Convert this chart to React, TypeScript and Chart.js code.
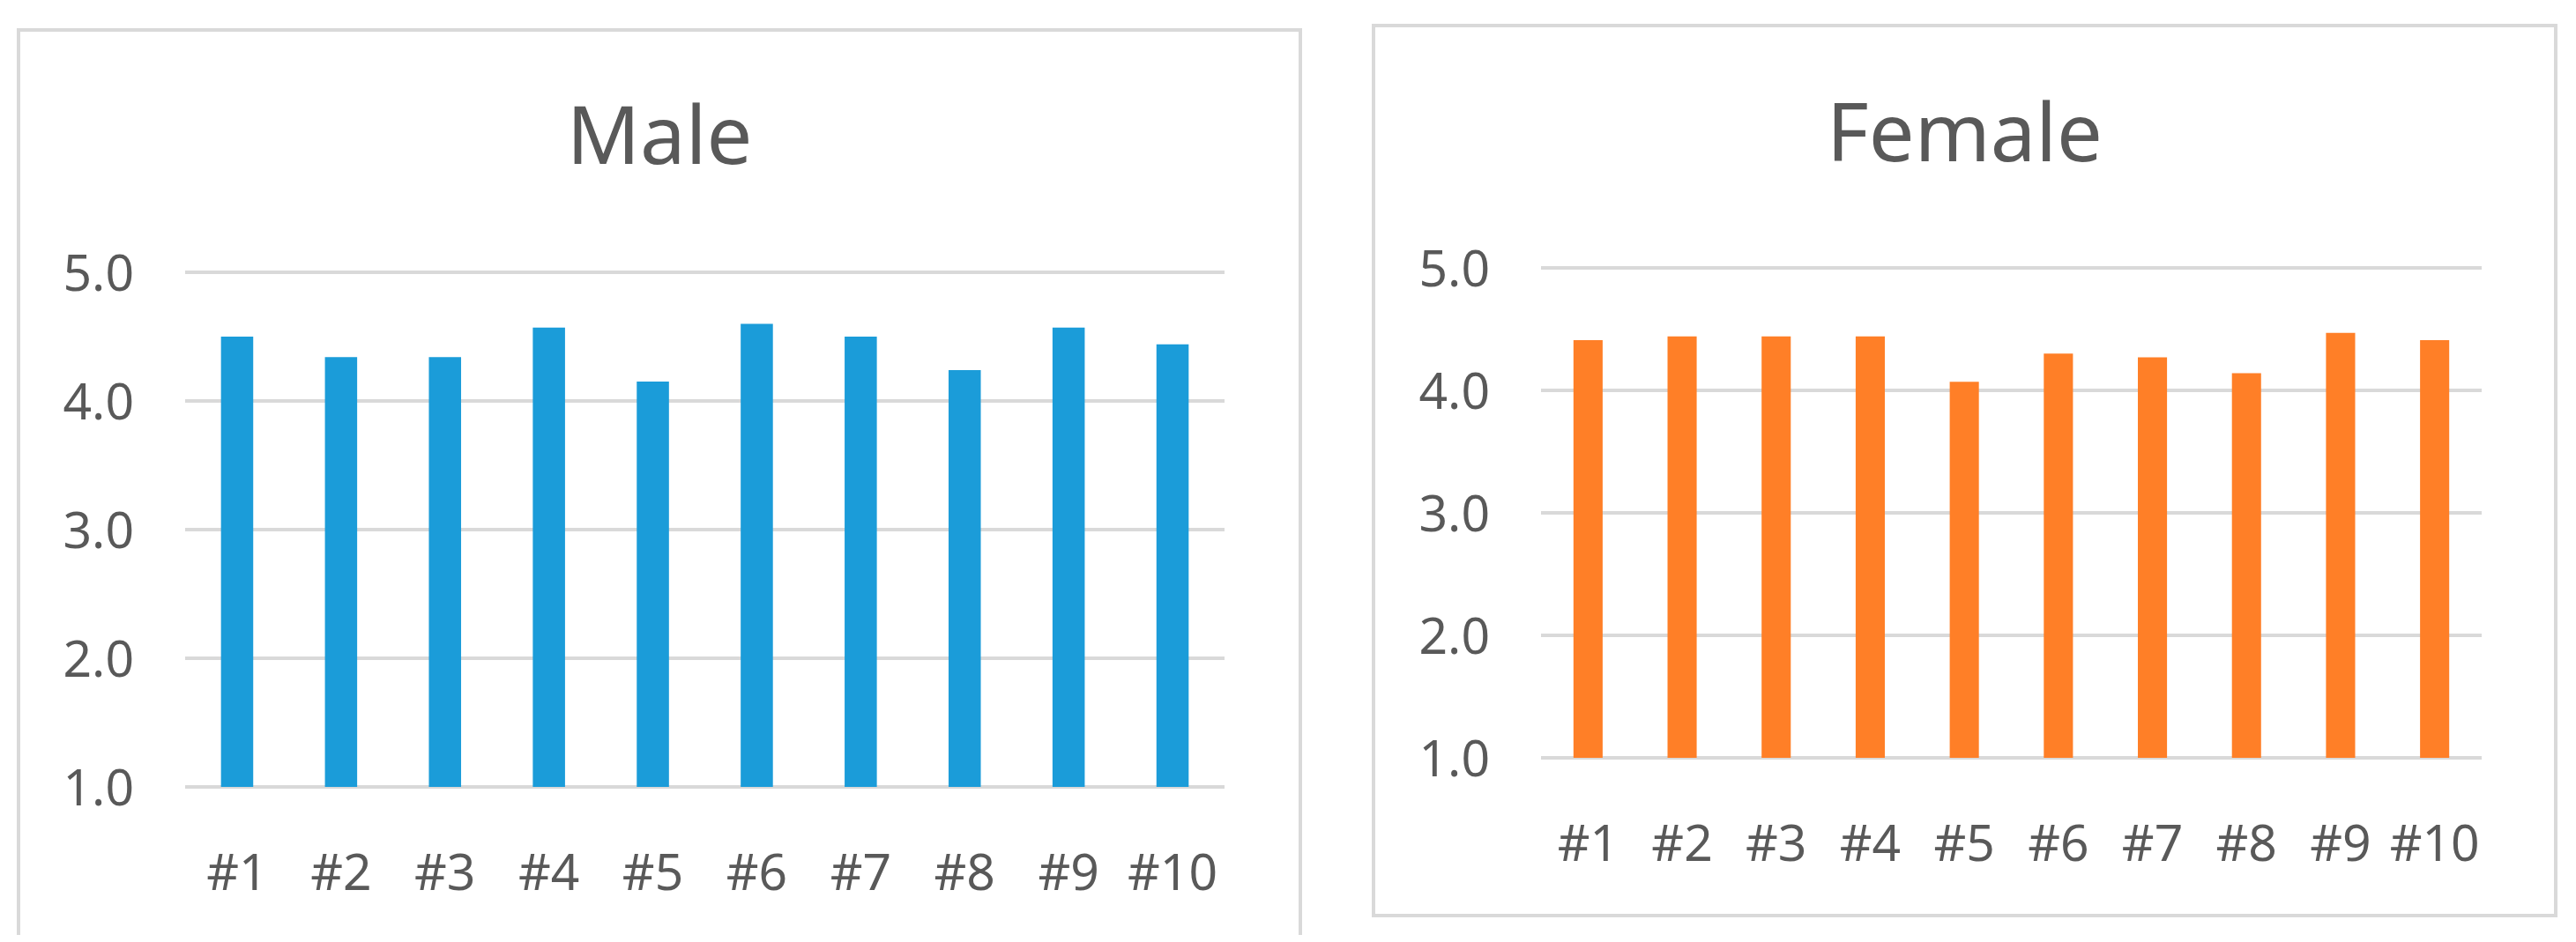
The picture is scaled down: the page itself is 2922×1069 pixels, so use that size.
import React, { useEffect, useRef } from 'react';
import { Chart, registerables } from 'chart.js';

Chart.register(...registerables);

const categories = ['#1', '#2', '#3', '#4', '#5', '#6', '#7', '#8', '#9', '#10'];
const maleValues = [4.5, 4.34, 4.34, 4.57, 4.15, 4.6, 4.5, 4.24, 4.57, 4.44];
const femaleValues = [4.41, 4.44, 4.44, 4.44, 4.07, 4.3, 4.27, 4.14, 4.47, 4.41];
const yMin = 1;
const yMax = 5;
const yStep = 1;

const TEXT = '#595959';
const GRID = '#d9d9d9';
const FONT = '"Noto Sans", "Open Sans", sans-serif';

type PanelProps = {
  title: string;
  values: number[];
  color: string;
  left: number;
  top: number;
  width: number;
  height: number;
  padR: number;
  yWidth: number;
  xHeight: number;
  titleTop: number;
  titleBottom: number;
};

function Panel(p: PanelProps) {
  const ref = useRef<HTMLCanvasElement | null>(null);
  const innerW = p.width - 8;
  const innerH = p.height - 8;

  useEffect(() => {
    if (!ref.current) return;
    const chart = new Chart(ref.current, {
      type: 'bar',
      data: {
        labels: categories,
        datasets: [
          {
            data: p.values,
            backgroundColor: p.color,
            borderWidth: 0,
            barPercentage: 0.31,
            categoryPercentage: 1,
            yAxisID: 'y',
          },
        ],
      },
      options: {
        responsive: false,
        animation: false,
        devicePixelRatio: 1,
        layout: { padding: 0 },
        plugins: {
          legend: { display: false },
          tooltip: { enabled: false },
          title: {
            display: true,
            text: p.title,
            color: TEXT,
            font: { family: FONT, size: 92, weight: 'normal' },
            padding: { top: p.titleTop, bottom: p.titleBottom },
          },
        },
        scales: {
          x: {
            grid: { display: false },
            border: { display: false },
            ticks: {
              color: TEXT,
              font: { family: FONT, size: 57 },
              padding: 59,
              maxRotation: 0,
              autoSkip: false,
            },
            afterFit: (s: any) => {
              s.height = p.xHeight;
            },
          },
          y: {
            position: 'left',
            min: yMin,
            max: yMax,
            grid: { color: GRID, lineWidth: 4, drawTicks: false },
            border: { display: false },
            ticks: {
              stepSize: yStep,
              color: TEXT,
              font: { family: FONT, size: 57 },
              padding: 58,
              labelOffset: 5,
              callback: (v: any) => Number(v).toFixed(1),
            },
            afterFit: (s: any) => {
              s.width = p.yWidth;
            },
          },
          yRightMargin: {
            position: 'right',
            min: yMin,
            max: yMax,
            grid: { display: false, drawTicks: false },
            border: { display: false },
            ticks: { display: false },
            afterFit: (s: any) => {
              s.width = p.padR;
            },
          },
        },
      },
    });
    return () => chart.destroy();
  }, []);

  return (
    <div
      style={{
        position: 'absolute',
        left: p.left,
        top: p.top,
        width: p.width,
        height: p.height,
        boxSizing: 'border-box',
        border: `4px solid ${GRID}`,
        background: '#ffffff',
      }}
    >
      <canvas
        ref={ref}
        width={innerW}
        height={innerH}
        style={{ display: 'block', width: innerW, height: innerH }}
      />
    </div>
  );
}

export default function App() {
  useEffect(() => {
    document.documentElement.style.overflow = 'hidden';
    document.body.style.overflow = 'hidden';
    document.body.style.background = '#ffffff';
  }, []);
  return (
    <div style={{ position: 'relative', width: 2922 - 16, height: 1069 - 16 }}>
      <Panel
        title="Male"
        values={maleValues}
        color="#1B9CD9"
        left={19 - 8}
        top={32 - 8}
        width={1458}
        height={1037}
        padR={84}
        yWidth={187}
        xHeight={172}
        titleTop={68.6}
        titleBottom={94}
      />
      <Panel
        title="Female"
        values={femaleValues}
        color="#FF7F27"
        left={1556 - 8}
        top={27 - 8}
        width={1345}
        height={1014}
        padR={82}
        yWidth={188}
        xHeight={177}
        titleTop={70.6}
        titleBottom={92}
      />
    </div>
  );
}
